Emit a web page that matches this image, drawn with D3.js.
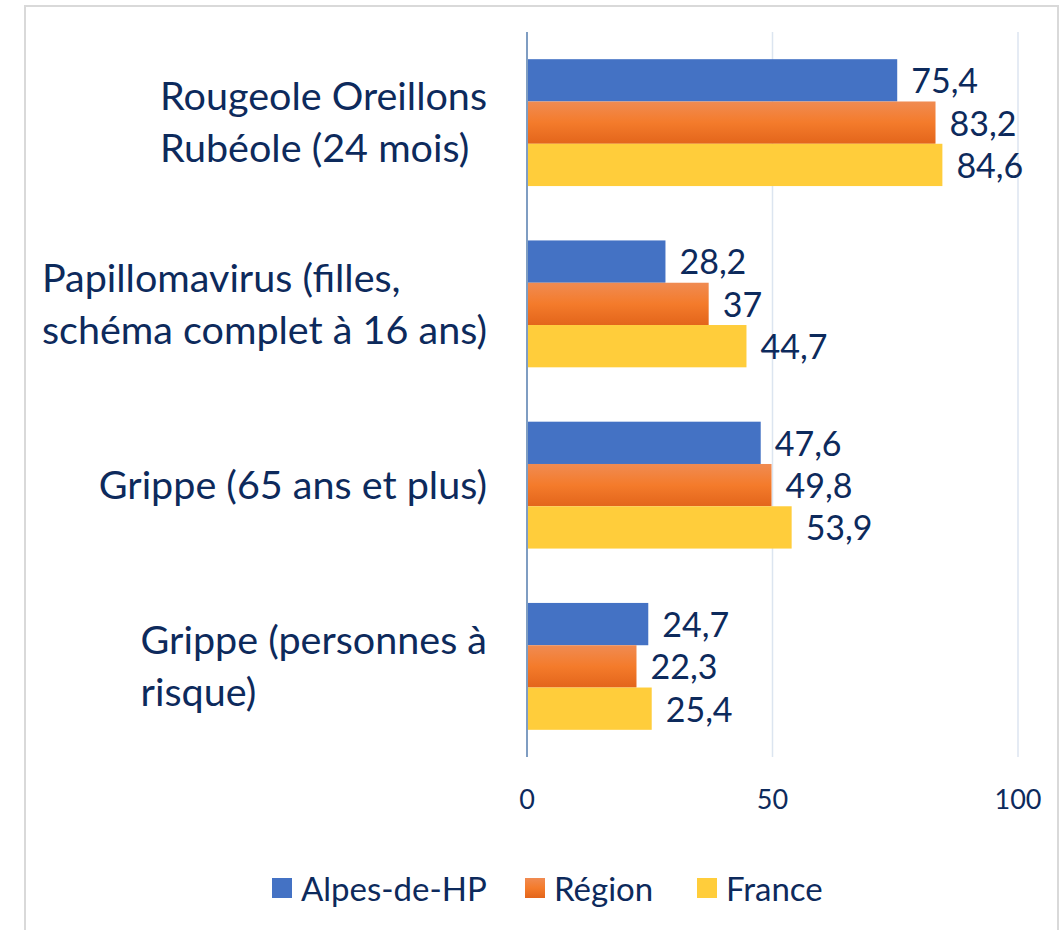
<!DOCTYPE html>
<html>
<head>
<meta charset="utf-8">
<script src="https://cdn.jsdelivr.net/npm/d3@7"></script>
<style>
  body { margin: 0; background: white; }
  text { font-family: Lato, "Open Sans", sans-serif; fill: #0d2a5c; }
</style>
</head>
<body>
<div id="chart"></div>
<script>
// données
const categories = [
  ["Rougeole Oreillons", "Rubéole (24 mois)"],
  ["Papillomavirus (filles,", "schéma complet à 16 ans)"],
  ["Grippe (65 ans et plus)"],
  ["Grippe (personnes à", "risque)"]
];
const series = ["Alpes-de-HP", "Région", "France"];
const alpesValues = [75.4, 28.2, 47.6, 24.7];
const regionValues = [83.2, 37, 49.8, 22.3];
const franceValues = [84.6, 44.7, 53.9, 25.4];
const xTicks = [0, 50, 100];

const allValues = [alpesValues, regionValues, franceValues];
const colors = ["#4472c4", "url(#orangeGrad)", "#ffcd3b"];

const width = 1063, height = 930;
const margin = {top: 32, bottom: 173, left: 527, right: 45};

const svg = d3.select("#chart").append("svg")
    .attr("width", width).attr("height", height);

const defs = svg.append("defs");
const grad = defs.append("linearGradient").attr("id", "orangeGrad")
    .attr("x1", 0).attr("y1", 0).attr("x2", 0).attr("y2", 1);
grad.append("stop").attr("offset", "0%").attr("stop-color", "#f08b52");
grad.append("stop").attr("offset", "50%").attr("stop-color", "#f47b2b");
grad.append("stop").attr("offset", "100%").attr("stop-color", "#e3651b");

// cadre
svg.append("rect")
    .attr("x", 25).attr("y", 6).attr("width", 1033).attr("height", 940)
    .attr("fill", "white").attr("stroke", "#d9d9d9").attr("stroke-width", 2);

const x = d3.scaleLinear().domain([0, 100])
    .range([margin.left, width - margin.right]);

const y = d3.scaleBand().domain(d3.range(categories.length))
    .range([margin.top, height - margin.bottom])
    .paddingInner(0.3).paddingOuter(0.15);

const ySub = d3.scaleBand().domain(series).range([0, y.bandwidth()]);

// grille
svg.append("g").selectAll("line")
    .data(xTicks.filter(t => t > 0)).join("line")
    .attr("x1", d => x(d)).attr("x2", d => x(d))
    .attr("y1", margin.top).attr("y2", height - margin.bottom)
    .attr("stroke", "#dce5f0").attr("stroke-width", 1.5);

// barres
const fmt = v => String(v).replace(".", ",");
series.forEach((s, si) => {
    const g = svg.append("g");
    g.selectAll("rect").data(allValues[si]).join("rect")
        .attr("x", x(0))
        .attr("y", (d, i) => y(i) + ySub(s))
        .attr("width", d => x(d) - x(0))
        .attr("height", ySub.bandwidth())
        .attr("fill", colors[si]);
    g.selectAll("text").data(allValues[si]).join("text")
        .attr("x", d => x(d) + 14)
        .attr("y", (d, i) => y(i) + ySub(s) + ySub.bandwidth() / 2 + 1)
        .attr("dy", "0.35em")
        .style("font-size", "34px")
        .text(d => fmt(d));
});

// axe vertical
svg.append("line")
    .attr("x1", x(0)).attr("x2", x(0))
    .attr("y1", margin.top).attr("y2", height - margin.bottom)
    .attr("stroke", "#7f9dc2").attr("stroke-width", 2);

// graduations
svg.append("g").selectAll("text")
    .data(xTicks).join("text")
    .attr("x", d => x(d)).attr("y", 800)
    .attr("dy", "0.35em")
    .attr("text-anchor", "middle")
    .style("font-size", "27px")
    .text(d => d);

// libellés des catégories
const lineH = 52;
categories.forEach((lines, i) => {
    const g = svg.append("g");
    const cy = y(i) + y.bandwidth() / 2;
    const txt = g.selectAll("text").data(lines).join("text")
        .attr("y", (d, j) => cy + (j - (lines.length - 1) / 2) * lineH)
        .attr("dy", "0.35em")
        .style("font-size", "39.5px")
        .text(d => d);
    const maxW = d3.max(txt.nodes(), n => n.getComputedTextLength());
    txt.attr("x", 487 - maxW);
});

// légende
const legX = [272, 525, 697];
const leg = svg.append("g");
series.forEach((s, si) => {
    leg.append("rect")
        .attr("x", legX[si]).attr("y", 878)
        .attr("width", 20).attr("height", 20)
        .attr("fill", colors[si]);
    leg.append("text")
        .attr("x", legX[si] + 29).attr("y", 889)
        .attr("dy", "0.35em")
        .style("font-size", "33px")
        .text(s);
});
</script>
</body>
</html>
